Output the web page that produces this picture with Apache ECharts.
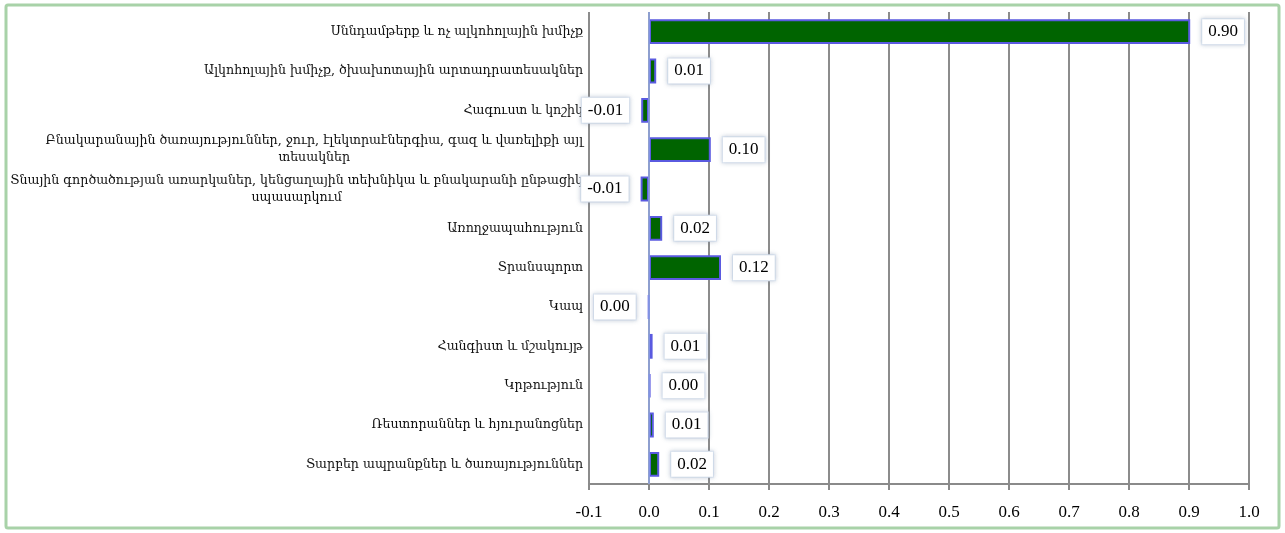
<!DOCTYPE html>
<html style="height: 100%">
    <head>
        <meta charset="utf-8">
    </head>
    <body style="height: 100%; margin: 0; background: #fff">
        <div id="container" style="width: 1285px; height: 533px"></div>

        <script type="text/javascript" src="https://cdn.jsdelivr.net/npm/echarts@6/dist/echarts.min.js"></script>
        <script type="text/javascript">
var categories = [
    'Սննդամթերք և ոչ ալկոհոլային խմիչք',
    'Ալկոհոլային խմիչք, ծխախոտային արտադրատեսակներ',
    'Հագուստ և կոշիկ',
    'Բնակարանային ծառայություններ, ջուր, էլեկտրաէներգիա, գազ և վառելիքի այլ\nտեսակներ',
    'Տնային գործածության առարկաներ, կենցաղային տեխնիկա և բնակարանի ընթացիկ\nսպասարկում',
    'Առողջապահություն',
    'Տրանսպորտ',
    'Կապ',
    'Հանգիստ և մշակույթ',
    'Կրթություն',
    'Ռեստորաններ և հյուրանոցներ',
    'Տարբեր ապրանքներ և ծառայություններ'
];
var values = [0.902, 0.012, -0.013, 0.103, -0.014, 0.022, 0.120, -0.001, 0.006, 0.002, 0.008, 0.017];

var xMin = -0.1;
var xMax = 1.0;
var xStep = 0.1;

var dom = document.getElementById('container');
var myChart = echarts.init(dom);

function fmt(v) {
    var s = v.toFixed(2);
    return s === '-0.00' ? '0.00' : s;
}

var option = {
    animation: false,
    graphic: [
        {
            type: 'rect',
            shape: { x: 6, y: 5, width: 1273, height: 523, r: 2 },
            style: { fill: 'none', stroke: '#a8d2a8', lineWidth: 3 },
            silent: true
        }
    ],
    grid: {
        left: 589,
        right: 36,
        top: 12,
        bottom: 49,
        containLabel: false,
        outerBoundsMode: 'none'
    },
    xAxis: {
        type: 'value',
        min: xMin,
        max: xMax,
        interval: xStep,
        axisLine: { show: true, onZero: false, lineStyle: { color: '#8a8a8a', width: 2 } },
        axisTick: { show: true, length: 6, lineStyle: { color: '#8a8a8a', width: 2 } },
        axisLabel: {
            margin: 20,
            color: '#000',
            fontFamily: 'Liberation Serif',
            fontSize: 17,
            formatter: function (v) { return v.toFixed(1); }
        },
        splitLine: { show: true, lineStyle: { color: '#8c8c8c', width: 2 } }
    },
    yAxis: {
        type: 'category',
        inverse: true,
        data: categories,
        axisLine: { show: false },
        axisTick: { show: false },
        axisLabel: {
            margin: 6,
            color: '#111',
            fontFamily: 'DejaVu Serif',
            fontSize: 12.6,
            lineHeight: 17,
            formatter: function (s) {
                if (s.indexOf('\n') < 0) return s;
                return s.split('\n').map(function (l) { return '{c|' + l + '}'; }).join('\n');
            },
            rich: {
                c: {
                    align: 'center',
                    color: '#111',
                    fontFamily: 'DejaVu Serif',
                    fontSize: 12.6,
                    lineHeight: 17
                }
            }
        }
    },
    series: [
        {
            type: 'bar',
            barCategoryGap: '37%',
            itemStyle: {
                color: '#006400',
                borderColor: '#5a5ae0',
                borderWidth: 2
            },
            label: {
                show: true,
                distance: 12,
                color: '#000',
                fontFamily: 'Liberation Serif',
                fontSize: 17,
                backgroundColor: '#fff',
                borderColor: '#dde6f2',
                borderWidth: 1,
                padding: [4, 6],
                shadowColor: 'rgba(120,140,170,0.35)',
                shadowBlur: 4,
                formatter: function (p) { return fmt(p.value); }
            },
            data: values.map(function (v) {
                return { value: v, label: { position: v < 0 ? 'left' : 'right' } };
            }),
            markLine: {
                silent: true,
                symbol: 'none',
                label: { show: false },
                lineStyle: { color: '#8fa6e6', width: 1.5, type: 'solid' },
                data: [{ xAxis: 0 }]
            }
        }
    ]
};

myChart.setOption(option);
        </script>
    </body>
</html>
